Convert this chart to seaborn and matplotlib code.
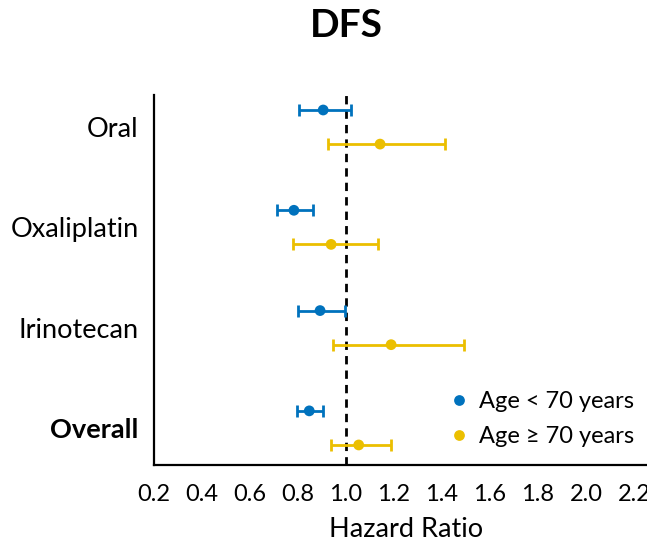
import matplotlib
matplotlib.use('Agg')
import matplotlib.pyplot as plt
import seaborn as sns
import pandas as pd
import numpy as np

# data
categories = ['Oral', 'Oxaliplatin', 'Irinotecan', 'Overall']
groups = ['Age < 70 years', 'Age \u2265 70 years']

hr_young = [0.905, 0.783, 0.892, 0.847]
lo_young = [0.804, 0.712, 0.801, 0.796]
hi_young = [1.022, 0.861, 0.996, 0.905]

hr_old = [1.142, 0.938, 1.188, 1.053]
lo_old = [0.924, 0.778, 0.944, 0.938]
hi_old = [1.411, 1.132, 1.493, 1.186]

xticks = [0.2, 0.4, 0.6, 0.8, 1.0, 1.2, 1.4, 1.6, 1.8, 2.0, 2.2]

colors = {groups[0]: '#0072BD', groups[1]: '#EBBF00'}
offsets = {groups[0]: -0.17, groups[1]: 0.17}

rows = []
for g, hr, lo, hi in [(groups[0], hr_young, lo_young, hi_young),
                      (groups[1], hr_old, lo_old, hi_old)]:
    for i, c in enumerate(categories):
        rows.append({'cat': c, 'group': g, 'hr': hr[i], 'lo': lo[i], 'hi': hi[i],
                     'y': i + offsets[g]})
df = pd.DataFrame(rows)

sns.set_style('white')
plt.rcParams['font.family'] = ['Lato', 'DejaVu Sans']
plt.rcParams['text.color'] = 'black'
plt.rcParams['axes.labelcolor'] = 'black'
plt.rcParams['xtick.color'] = 'black'
plt.rcParams['ytick.color'] = 'black'

fig = plt.figure(figsize=(6.47, 5.54), dpi=100)
ax = fig.add_axes([0.238, 0.1606, 0.779, 0.668])

ax.axvline(1.0, color='black', linestyle=(0, (3, 2.2)), lw=2, zorder=1)

for g in groups:
    d = df[df['group'] == g]
    ax.errorbar(d['hr'], d['y'], xerr=[d['hr'] - d['lo'], d['hi'] - d['hr']],
                fmt='none', ecolor=colors[g], elinewidth=2, capsize=4, capthick=2, zorder=2)

sns.scatterplot(data=df, x='hr', y='y', hue='group', palette=colors, s=60,
                edgecolor='none', ax=ax, zorder=3)

ax.set_xlim(0.2, 2.3)
ax.set_ylim(3.37, -0.32)
ax.set_xticks(xticks)
ax.set_xticklabels([f'{t:.1f}' for t in xticks], fontsize=17)
ax.set_yticks(range(len(categories)))
ax.set_yticklabels(categories, fontsize=19.5)
ax.get_yticklabels()[-1].set_fontweight('bold')

for s in ['top', 'right']:
    ax.spines[s].set_visible(False)
for s in ['left', 'bottom']:
    ax.spines[s].set_color('black')
    ax.spines[s].set_linewidth(1.6)
ax.tick_params(axis='y', direction='out', length=6, width=1.6, colors='black', pad=5)
ax.tick_params(axis='x', direction='out', length=7, width=1.6, colors='black', pad=7)

ax.set_xlabel('Hazard Ratio', fontsize=19.5, labelpad=8, color='black')
ax.set_ylabel('')
fig.suptitle('DFS', fontsize=28, fontweight='bold', x=0.535, y=0.985, color='black')

leg = ax.legend(loc='lower right', bbox_to_anchor=(0.995, -0.01), frameon=False,
                fontsize=17, handlelength=1.0, handletextpad=0.35, labelspacing=0.6,
                markerscale=1.0)
for t in leg.get_texts():
    t.set_color('black')

fig.savefig('out.png', dpi=100)
